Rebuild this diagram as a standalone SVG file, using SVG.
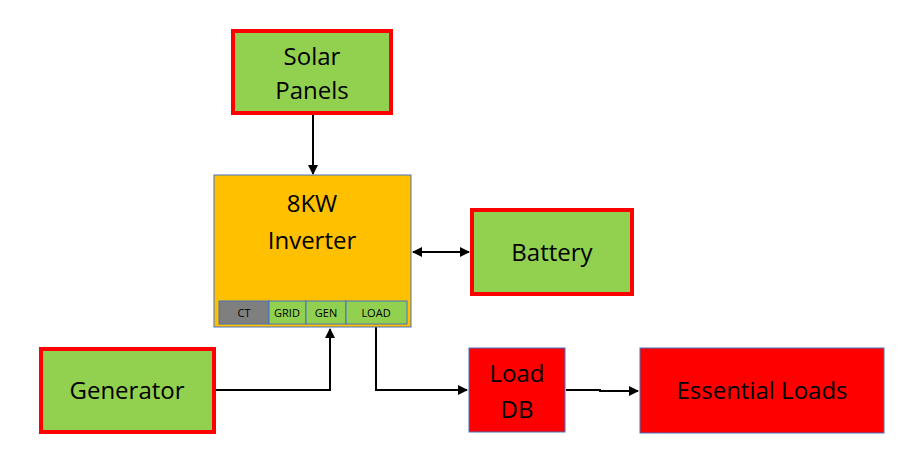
<svg xmlns="http://www.w3.org/2000/svg" width="903" height="450" viewBox="0 0 903 450">
<defs>
<style>
.g{fill:#92d050;stroke:#ff0000;stroke-width:4}
.r{fill:#ff0000;stroke:#4472c4;stroke-width:1}
.t{font-family:"Open Sans","Liberation Sans",sans-serif;font-size:24px;fill:#000;text-anchor:middle}
.s{font-family:"Open Sans","Liberation Sans",sans-serif;font-size:11px;fill:#000;text-anchor:middle}
.c{fill:none;stroke:#000;stroke-width:2}
</style>
<marker id="a" viewBox="0 0 10 10" refX="9" refY="5" markerWidth="5" markerHeight="5" orient="auto-start-reverse"><path d="M0,0L10,5L0,10z" fill="#000"/></marker>
</defs>
<rect width="903" height="450" fill="#fff"/>
<g id="connectors">
<path class="c" d="M313,114V174" marker-end="url(#a)"/>
<path class="c" d="M413,252H469" marker-start="url(#a)" marker-end="url(#a)"/>
<path class="c" d="M216,390H330V329" marker-end="url(#a)"/>
<path class="c" d="M376,325V390H467" marker-end="url(#a)"/>
<path class="c" d="M566,390H600V391H638" marker-end="url(#a)"/>
</g>
<g id="solar"><rect class="g" x="233" y="31" width="158" height="82"/><text class="t" x="312" y="65">Solar</text><text class="t" x="312" y="99">Panels</text></g>
<g id="inverter"><rect x="214" y="175" width="197" height="152" fill="#ffc000" stroke="#4472c4" stroke-width="1"/>
<text class="t" x="312" y="212">8KW</text><text class="t" x="312" y="249">Inverter</text>
<rect x="219" y="301" width="50" height="23" fill="#7f7f7f" stroke="#4472c4"/><text class="s" x="244" y="317">CT</text>
<rect x="269" y="301" width="37" height="23" fill="#92d050" stroke="#4472c4"/><text class="s" x="287" y="317">GRID</text>
<rect x="306" y="301" width="40" height="23" fill="#92d050" stroke="#4472c4"/><text class="s" x="326" y="317">GEN</text>
<rect x="346" y="301" width="61" height="23" fill="#92d050" stroke="#4472c4"/><text class="s" x="376" y="317">LOAD</text></g>
<g id="battery"><rect class="g" x="472" y="210" width="160" height="84"/><text class="t" x="552" y="261">Battery</text></g>
<g id="generator"><rect class="g" x="41" y="349" width="173" height="83"/><text class="t" x="127" y="399">Generator</text></g>
<g id="loaddb"><rect class="r" x="469" y="348" width="96" height="84"/><text class="t" x="517" y="382">Load</text><text class="t" x="517" y="418">DB</text></g>
<g id="essential"><rect class="r" x="640" y="348" width="244" height="85"/><text class="t" x="762" y="399">Essential Loads</text></g>
</svg>
